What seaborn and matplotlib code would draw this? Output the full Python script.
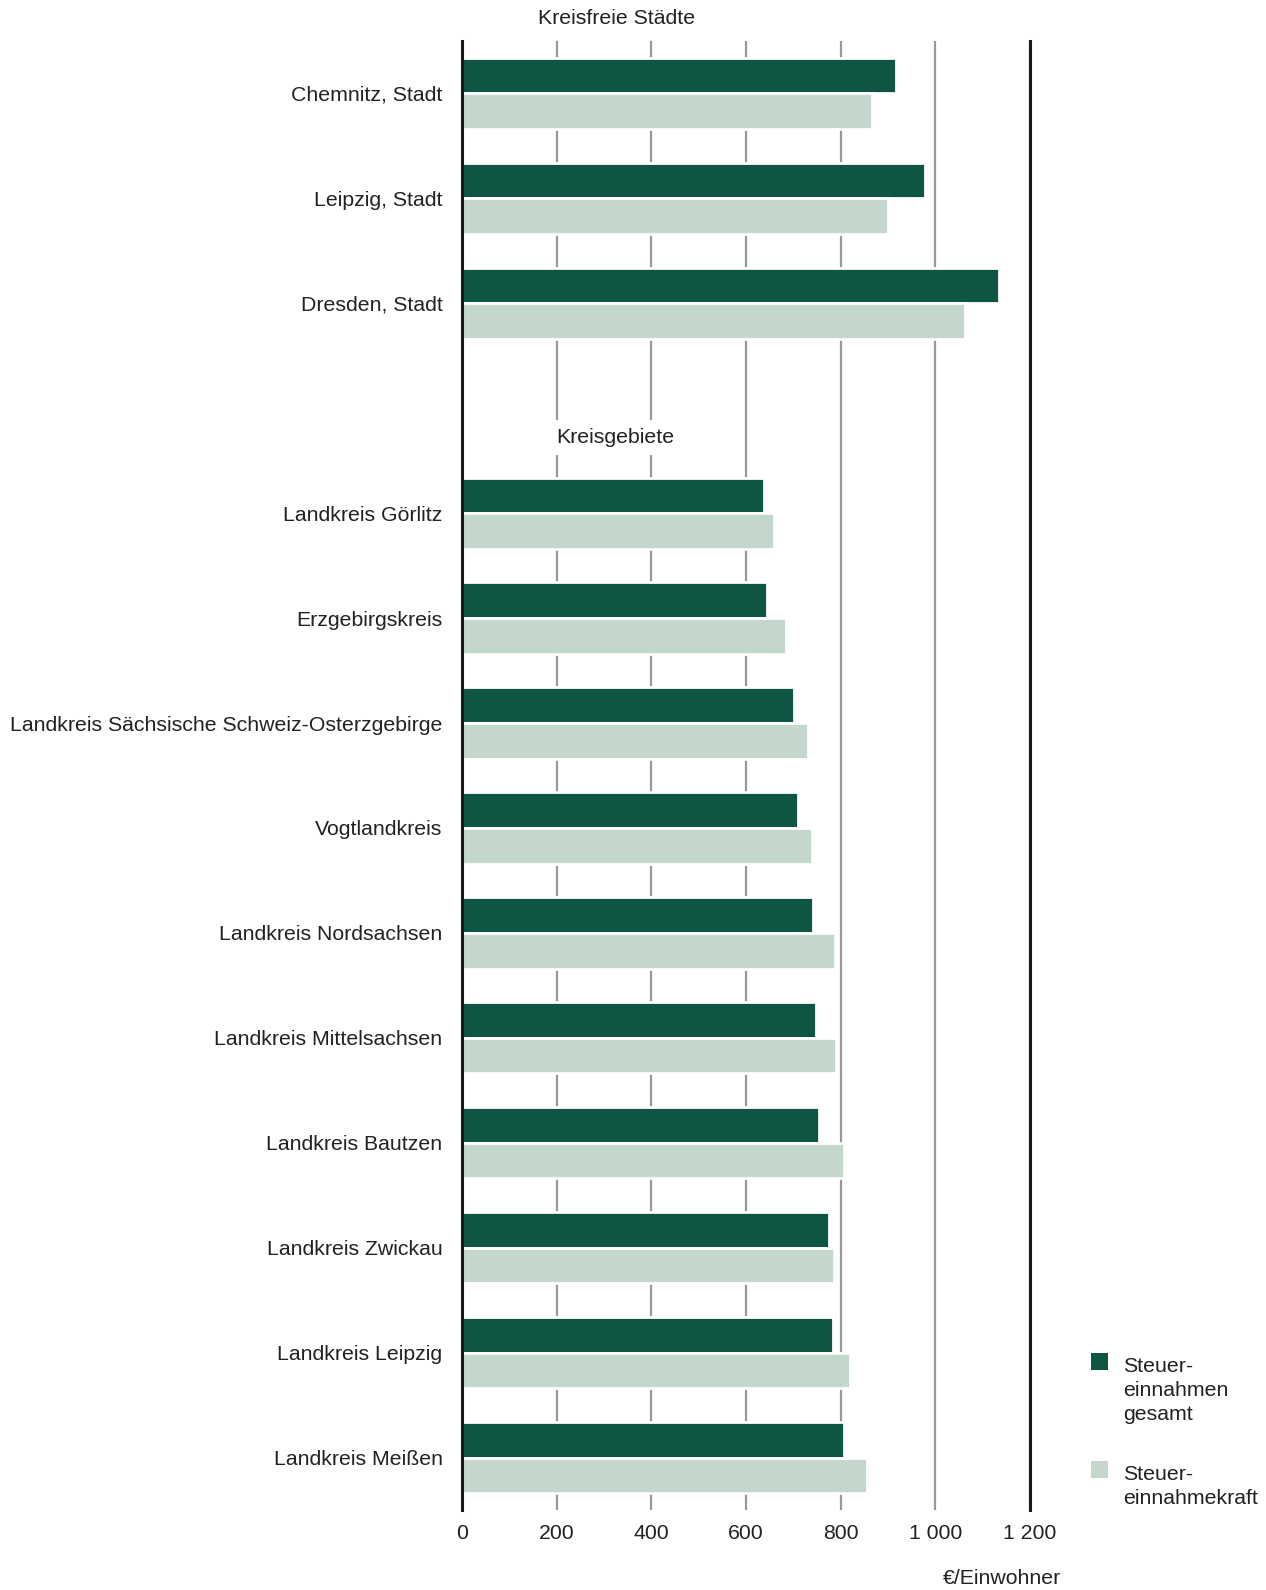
import pandas as pd
import numpy as np
import matplotlib
matplotlib.use("Agg")
import matplotlib.pyplot as plt
from matplotlib.patches import Rectangle
import seaborn as sns

# data (EUR per inhabitant)
cities = ["Chemnitz, Stadt", "Leipzig, Stadt", "Dresden, Stadt"]
districts = ["Landkreis Görlitz", "Erzgebirgskreis",
             "Landkreis Sächsische Schweiz-Osterzgebirge", "Vogtlandkreis",
             "Landkreis Nordsachsen", "Landkreis Mittelsachsen",
             "Landkreis Bautzen", "Landkreis Zwickau", "Landkreis Leipzig",
             "Landkreis Meißen"]
einnahmen_gesamt = [917, 979, 1135,
                    639, 644, 702, 710, 742, 747, 755, 775, 783, 807]
einnahmekraft = [867, 901, 1062,
                 659, 684, 730, 740, 787, 790, 806, 785, 820, 856]
series_names = ["Steuer-\neinnahmen\ngesamt", "Steuer-\neinnahmekraft"]
xticks = [0, 200, 400, 600, 800, 1000, 1200]
xtick_labels = ["0", "200", "400", "600", "800", "1 000", "1 200"]

dark = "#0e5543"
light = "#c3d7cc"
grey = "#999999"
txt = "#222222"
fs = 15.3

regions = cities + districts
df = pd.DataFrame({
    "region": regions * 2,
    "wert": einnahmen_gesamt + einnahmekraft,
    "serie": [series_names[0]] * len(regions) + [series_names[1]] * len(regions),
})
spacer = " "
order = cities + [spacer] + districts

sns.set_style("white")
plt.rcParams["font.family"] = ["Liberation Sans", "DejaVu Sans"]
plt.rcParams["font.size"] = fs

fig = plt.figure(figsize=(12.66, 15.9), dpi=100)
ax = fig.add_axes([462 / 1266, 1 - 1510 / 1590, (1030 - 462) / 1266, (1510 - 41) / 1590])

sns.barplot(data=df, x="wert", y="region", hue="serie", order=order,
            hue_order=series_names, palette=[dark, light], saturation=1,
            width=0.68, edgecolor="white", linewidth=2, errorbar=None,
            orient="h", legend=False, ax=ax)

ax.set_xlim(0, 1200)
ax.set_ylim(len(order) - 0.5, -0.5)
ax.set_xticks(xticks)
ax.set_xticklabels(xtick_labels, color=txt, fontsize=fs)
ax.tick_params(axis="both", length=0)
ax.tick_params(axis="x", pad=10)
ax.tick_params(axis="y", pad=14, labelcolor=txt, labelsize=fs)
ax.set_xlabel("")
ax.set_ylabel("")

ax.set_axisbelow(True)
ax.grid(axis="x", color=grey, linewidth=1.6)
ax.grid(axis="y", visible=False)
for side in ["top", "bottom"]:
    ax.spines[side].set_visible(False)
for side in ["left", "right"]:
    ax.spines[side].set_visible(True)
    ax.spines[side].set_color("#1a1a1a")
    ax.spines[side].set_linewidth(2.2)

# group headings
ax.text(327, -0.71, "Kreisfreie Städte", ha="center", va="center",
        color=txt, fontsize=fs, clip_on=False)
ax.text(200, 3.28, "Kreisgebiete", ha="left", va="center", color=txt,
        fontsize=fs, bbox=dict(facecolor="white", edgecolor="none", pad=6))

fig.text(1061 / 1266, 1 - 1578 / 1590, "€/Einwohner", ha="right",
         va="center", color=txt, fontsize=fs)

# legend, square aligned with first text line
legend_rows = [(1362, dark, series_names[0]), (1470, light, series_names[1])]
for yc, col, name in legend_rows:
    fig.patches.append(Rectangle((1091 / 1266, 1 - (yc + 8) / 1590),
                                 17 / 1266, 17 / 1590, facecolor=col,
                                 edgecolor="none", transform=fig.transFigure))
    fig.text(1123 / 1266, 1 - (yc - 5) / 1590, name, ha="left", va="top",
             color=txt, fontsize=fs, linespacing=1.32)

fig.savefig("out.png", dpi=100)
